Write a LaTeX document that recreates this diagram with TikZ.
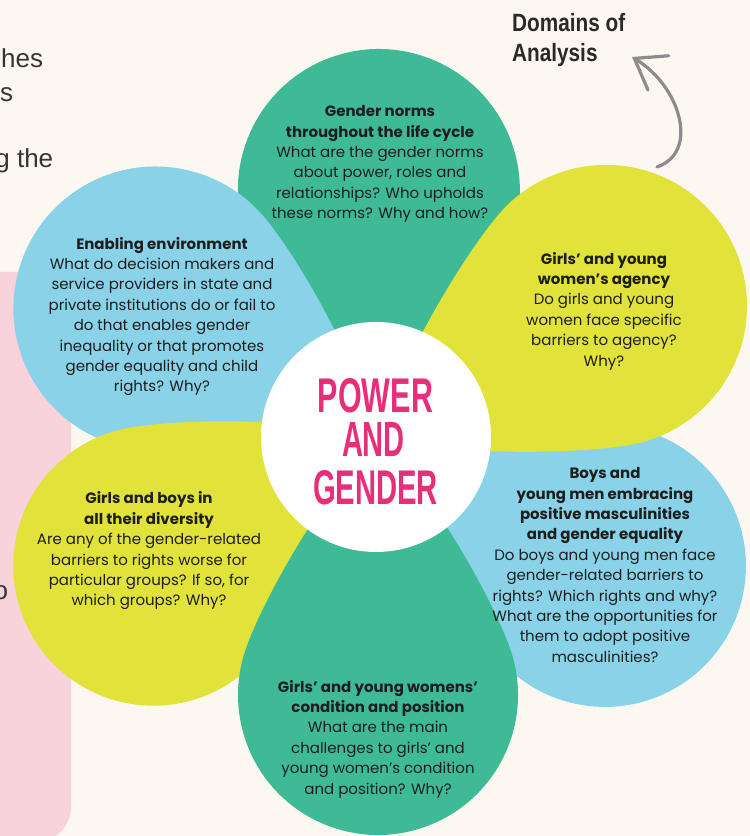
\documentclass[tikz,border=0pt]{standalone}
\usepackage{fontspec}
\setmainfont{Poppins}
\newfontfamily\labelfont{Liberation Sans}
\usetikzlibrary{arrows.meta}

\definecolor{paper}{HTML}{FCF8F1}
\definecolor{petalteal}{HTML}{3FBA97}
\definecolor{petalyellow}{HTML}{E2E33A}
\definecolor{petalblue}{HTML}{89D2E8}
\definecolor{sidepink}{HTML}{F8D3DC}
\definecolor{hotpink}{HTML}{E62E7B}
\definecolor{ink}{HTML}{1E1E1E}
\definecolor{arrowgrey}{HTML}{8C8C8C}

% One teardrop petal: tip at the flower centre, round end of the given
% radius whose centre lies at the given distance along the axis.
\newcommand{\drawpetal}[4]{%
  \begin{scope}[shift={(378,399)}, rotate=#2]
    \fill[#1] (0,0)
      .. controls (49.5,49.5) and ({#3+#4*cos(110)-56.4},{#4*sin(110)-20.5})
      .. ({#3+#4*cos(110)},{#4*sin(110)})
      arc[start angle=110, end angle=-110, radius=#4]
      .. controls ({#3+#4*cos(110)-56.4},{-#4*sin(110)+20.5}) and (49.5,-49.5)
      .. (0,0) -- cycle;
  \end{scope}}

\tikzset{
  petaltext/.style={align=center, text=ink, inner sep=0pt,
    font=\fontsize{15}{20.4}\selectfont},
  sidetext/.style={anchor=base west, inner sep=0pt, text=ink!90,
    font=\labelfont\fontsize{26}{30}\selectfont},
  hubword/.style={inner sep=0pt, text=hotpink, font=\labelfont\bfseries},
}

\begin{document}
\begin{tikzpicture}[x=1pt, y=1pt]
  \clip (0,0) rectangle (750,836);
  \fill[paper] (0,0) rectangle (750,836);

  % panel running down the left side
  \fill[sidepink, rounded corners=35pt] (-40,-6) rectangle (71,564);

  % running text from the neighbouring column
  \node[sidetext] (cutA) at (1,768) {hes};
  \node[sidetext] (cutB) at (0,734) {s};
  \node[sidetext] (cutC) at (-4.8,668) {g the};
  \node[sidetext] (cutD) at (-6.5,236) {o};

  % petals, back to front
  \drawpetal{petalteal}{89.8}{247}{141}
  \drawpetal{petalblue}{150}{257}{142}
  \drawpetal{petalyellow}{209.8}{259}{140}
  \drawpetal{petalblue}{-29.6}{261}{141}
  \drawpetal{petalteal}{-90}{258}{140}
  \drawpetal{petalyellow}{29.9}{263}{141}

  % centre of the flower
  \node[circle, fill=white, minimum size=230pt, inner sep=0pt] (hub) at (376,399) {};
  \node[hubword] (power) at (375.5,440.5) {\resizebox{115pt}{34pt}{POWER}};
  \node[hubword] (and) at (373.5,396) {\resizebox{63pt}{34pt}{AND}};
  \node[hubword] (gender) at (375.5,348.5) {\resizebox{125pt}{34pt}{GENDER}};

  % petal questions
  \node[petaltext] (norms) at (380,672) {%
    \textbf{Gender norms}\\
    \textbf{throughout the life cycle}\\
    What are the gender norms\\
    about power, roles and\\
    relationships? Who upholds\\
    these norms? Why and how?};
  \node[petaltext] (agency) at (604,525) {%
    \textbf{Girls’ and young}\\
    \textbf{women’s agency}\\
    Do girls and young\\
    women face specific\\
    barriers to agency?\\
    Why?};
  \node[petaltext] (enabling) at (162,519.5) {%
    \textbf{Enabling environment}\\
    What do decision makers and\\
    service providers in state and\\
    private institutions do or fail to\\
    do that enables gender\\
    inequality or that promotes\\
    gender equality and child\\
    rights? Why?};
  \node[petaltext] (diversity) at (149,285) {%
    \textbf{Girls and boys in}\\
    \textbf{all their diversity}\\
    Are any of the gender-related\\
    barriers to rights worse for\\
    particular groups? If so, for\\
    which groups? Why?};
  \node[petaltext] (boys) at (605,271) {%
    \textbf{Boys and}\\
    \textbf{young men embracing}\\
    \textbf{positive masculinities}\\
    \textbf{and gender equality}\\
    Do boys and young men face\\
    gender-related barriers to\\
    rights? Which rights and why?\\
    What are the opportunities for\\
    them to adopt positive\\
    masculinities?};
  \node[petaltext] (condition) at (378,97) {%
    \textbf{Girls’ and young womens’}\\
    \textbf{condition and position}\\
    What are the main\\
    challenges to girls’ and\\
    young women’s condition\\
    and position? Why?};

  % caption with its curved pointer
  \node[anchor=north west, inner sep=0pt, align=left, text=ink!95,
        font=\labelfont\bfseries\fontsize{25}{30}\selectfont] (domains) at (512,823)
        {\scalebox{0.83}[1]{Domains of}\\\scalebox{0.83}[1]{Analysis}};
  \coordinate (arrowfoot) at (657,669);
  \coordinate (arrowtip) at (632,779);
  \draw[arrowgrey, line width=3.2pt, line cap=round,
        -{Straight Barb[length=28pt, width=40pt, line cap=round]}]
    (arrowfoot) .. controls (700,684) and (680,750) .. (arrowtip);
\end{tikzpicture}
\end{document}
